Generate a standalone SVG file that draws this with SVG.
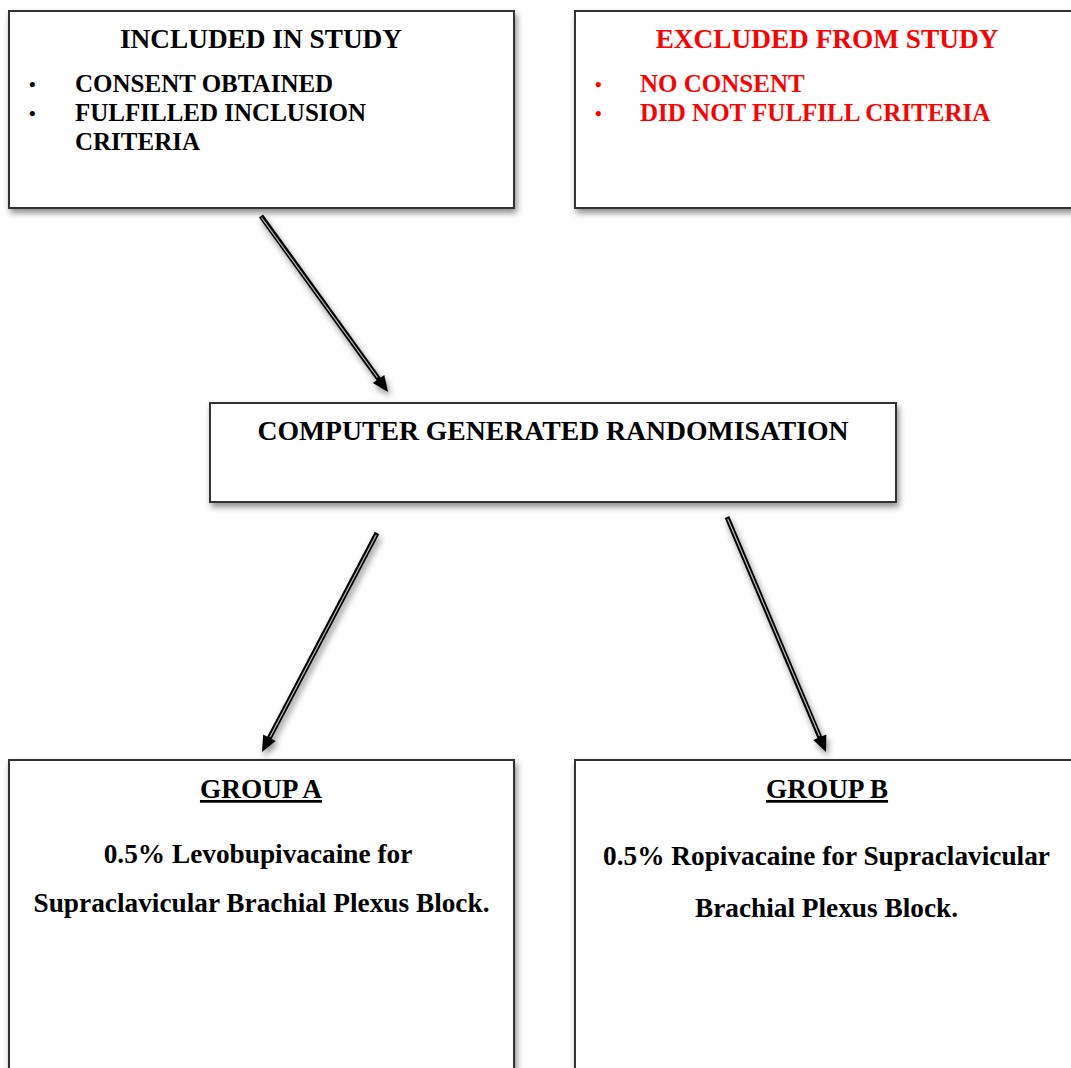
<svg xmlns="http://www.w3.org/2000/svg" width="1071" height="1068" viewBox="0 0 1071 1068">
<defs>
<filter id="sh" x="-10%" y="-10%" width="130%" height="130%">
<feDropShadow dx="2" dy="4" stdDeviation="3" flood-color="#000" flood-opacity="0.45"/>
</filter>
<style>
.box{fill:#fff;stroke:#333;stroke-width:2;filter:url(#sh)}
.t{font-family:"Liberation Serif","Times New Roman",serif;font-weight:bold;font-size:27.3px;fill:#000}
.b{font-size:25px}
.bu{font-size:19px}
.h{font-size:27.7px}
.red{fill:#ff0000}
.c{text-anchor:middle}
.ln{stroke:#000;stroke-width:5;fill:none}
.in{stroke:#bbb;stroke-width:1.2;fill:none}
.hd{fill:#000}
</style>
</defs>
<rect width="1071" height="1068" fill="#fff"/>

<g id="connectors">
<g filter="url(#sh)">
<line class="ln" x1="261" y1="216" x2="379.8" y2="380.6"/>
<polygon class="hd" points="388,392 372.9,383.1 384.3,374.9"/>
</g>
<line class="in" x1="261.5" y1="217.5" x2="377.5" y2="377.5"/>
<g filter="url(#sh)">
<line class="ln" x1="377" y1="533" x2="268.5" y2="739.6"/>
<polygon class="hd" points="262,752 263.2,734.5 275.6,741.1"/>
</g>
<line class="in" x1="376.2" y1="535" x2="270" y2="737"/>
<g filter="url(#sh)">
<line class="ln" x1="727" y1="517" x2="820.6" y2="739.1"/>
<polygon class="hd" points="826,752 813.3,739.9 826.3,734.5"/>
</g>
<line class="in" x1="727.8" y1="519" x2="819.5" y2="736"/>
</g>

<g id="included">
<rect class="box" x="9" y="11" width="505" height="197"/>
<text class="t c" x="261" y="48">INCLUDED IN STUDY</text>
<text class="t bu" x="29" y="91">•</text>
<text class="t b" x="75" y="92">CONSENT OBTAINED</text>
<text class="t bu" x="29" y="120">•</text>
<text class="t b" x="75" y="121">FULFILLED INCLUSION</text>
<text class="t b" x="75" y="150">CRITERIA</text>
</g>

<g id="excluded">
<rect class="box" x="575" y="11" width="510" height="197"/>
<text class="t c red" x="827" y="48">EXCLUDED FROM STUDY</text>
<text class="t bu red" x="595" y="91">•</text>
<text class="t b red" x="640" y="92">NO CONSENT</text>
<text class="t bu red" x="595" y="120">•</text>
<text class="t b red" x="640" y="121">DID NOT FULFILL CRITERIA</text>
</g>

<g id="randomisation">
<rect class="box" x="210" y="403" width="686" height="99"/>
<text class="t c h" x="553" y="440">COMPUTER GENERATED RANDOMISATION</text>
</g>

<g id="groupA">
<rect class="box" x="9" y="760" width="505" height="320"/>
<text class="t c" x="261" y="798" text-decoration="underline">GROUP A</text>
<text class="t c" x="258" y="863">0.5% Levobupivacaine for</text>
<text class="t c" x="261.5" y="912">Supraclavicular Brachial Plexus Block.</text>
</g>

<g id="groupB">
<rect class="box" x="575" y="760" width="510" height="320"/>
<text class="t c" x="827" y="798" text-decoration="underline">GROUP B</text>
<text class="t c" x="826.5" y="865">0.5% Ropivacaine for Supraclavicular</text>
<text class="t c" x="826.5" y="917">Brachial Plexus Block.</text>
</g>
</svg>
